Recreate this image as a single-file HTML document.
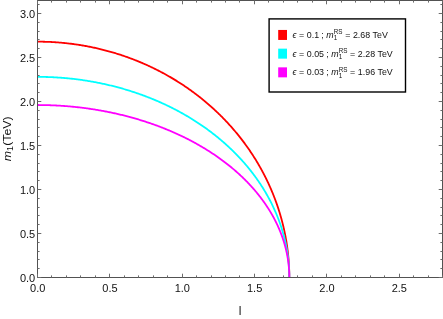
<!DOCTYPE html>
<html><head><meta charset="utf-8"><title>plot</title>
<style>
html,body{margin:0;padding:0;background:#fff;}
body{width:443px;height:319px;overflow:hidden;}
svg{display:block;font-family:"Liberation Sans",sans-serif;will-change:transform;}
</style></head><body>
<svg width="443" height="319" viewBox="0 0 443 319">
<rect width="443" height="319" fill="#fff"/>
<g clip-path="url(#c)">
<polyline points="37.50,41.66 38.49,41.66 39.48,41.67 40.47,41.68 41.46,41.69 42.44,41.71 43.43,41.73 44.42,41.75 45.41,41.78 46.40,41.81 47.39,41.84 48.37,41.88 49.36,41.92 50.35,41.97 51.34,42.02 52.32,42.07 53.31,42.13 54.30,42.19 55.29,42.25 56.27,42.32 57.26,42.39 58.24,42.46 59.23,42.54 60.21,42.62 61.20,42.71 62.18,42.80 63.17,42.89 64.15,42.98 65.13,43.08 66.12,43.19 67.10,43.29 68.08,43.41 69.06,43.52 70.04,43.64 71.02,43.76 72.00,43.88 72.98,44.01 73.96,44.15 74.94,44.28 75.92,44.42 76.89,44.56 77.87,44.71 78.85,44.86 79.82,45.01 80.79,45.17 81.77,45.33 82.74,45.50 83.71,45.67 84.69,45.84 85.66,46.01 86.63,46.19 87.60,46.37 88.57,46.56 89.53,46.75 90.50,46.94 91.47,47.14 92.43,47.34 93.40,47.54 94.36,47.75 95.32,47.96 96.29,48.18 97.25,48.39 98.21,48.62 99.17,48.84 100.12,49.07 101.08,49.30 102.04,49.54 102.99,49.78 103.95,50.02 104.90,50.26 105.85,50.51 106.80,50.77 107.76,51.02 108.70,51.28 109.65,51.55 110.60,51.82 111.54,52.09 112.49,52.36 113.43,52.64 114.38,52.92 115.32,53.20 116.26,53.49 117.19,53.78 118.13,54.08 119.07,54.38 120.00,54.68 120.94,54.98 121.87,55.29 122.80,55.60 123.73,55.92 124.66,56.24 125.59,56.56 126.51,56.88 127.44,57.21 128.36,57.55 129.28,57.88 130.20,58.22 131.12,58.56 132.04,58.91 132.95,59.26 133.87,59.61 134.78,59.97 135.69,60.33 136.60,60.69 137.51,61.06 138.42,61.43 139.32,61.80 140.22,62.18 141.13,62.55 142.03,62.94 142.93,63.32 143.82,63.71 144.72,64.11 145.61,64.50 146.51,64.90 147.40,65.30 148.28,65.71 149.17,66.12 150.06,66.53 150.94,66.95 151.82,67.37 152.70,67.79 153.58,68.21 154.46,68.64 155.33,69.07 156.21,69.51 157.08,69.95 157.95,70.39 158.81,70.83 159.68,71.28 160.54,71.73 161.41,72.18 162.27,72.64 163.12,73.10 163.98,73.57 164.83,74.03 165.69,74.50 166.54,74.98 167.38,75.45 168.23,75.93 169.07,76.41 169.92,76.90 170.76,77.39 171.59,77.88 172.43,78.37 173.26,78.87 174.10,79.37 174.93,79.88 175.75,80.38 176.58,80.89 177.40,81.41 178.22,81.92 179.04,82.44 179.86,82.96 180.67,83.49 181.49,84.02 182.30,84.55 183.10,85.08 183.91,85.62 184.71,86.16 185.52,86.70 186.31,87.25 187.11,87.80 187.90,88.35 188.70,88.90 189.49,89.46 190.27,90.02 191.06,90.58 191.84,91.15 192.62,91.72 193.40,92.29 194.17,92.87 194.95,93.44 195.72,94.02 196.49,94.61 197.25,95.19 198.01,95.78 198.78,96.37 199.53,96.97 200.29,97.57 201.04,98.17 201.79,98.77 202.54,99.37 203.29,99.98 204.03,100.59 204.77,101.21 205.51,101.82 206.24,102.44 206.98,103.07 207.71,103.69 208.43,104.32 209.16,104.95 209.88,105.58 210.60,106.22 211.32,106.85 212.03,107.49 212.74,108.14 213.45,108.78 214.16,109.43 214.86,110.08 215.56,110.74 216.26,111.39 216.96,112.05 217.65,112.71 218.34,113.38 219.02,114.04 219.71,114.71 220.39,115.38 221.07,116.06 221.74,116.73 222.42,117.41 223.09,118.09 223.75,118.78 224.42,119.46 225.08,120.15 225.74,120.84 226.39,121.54 227.04,122.23 227.69,122.93 228.34,123.63 228.98,124.33 229.62,125.04 230.26,125.75 230.90,126.46 231.53,127.17 232.16,127.88 232.78,128.60 233.41,129.32 234.03,130.04 234.64,130.77 235.26,131.49 235.87,132.22 236.48,132.95 237.08,133.68 237.68,134.42 238.28,135.16 238.88,135.90 239.47,136.64 240.06,137.38 240.64,138.13 241.23,138.88 241.80,139.63 242.38,140.38 242.95,141.13 243.53,141.89 244.09,142.65 244.66,143.41 245.22,144.17 245.77,144.94 246.33,145.71 246.88,146.47 247.43,147.25 247.97,148.02 248.51,148.79 249.05,149.57 249.59,150.35 250.12,151.13 250.65,151.91 251.17,152.70 251.69,153.49 252.21,154.27 252.73,155.06 253.24,155.86 253.75,156.65 254.25,157.45 254.75,158.25 255.25,159.05 255.75,159.85 256.24,160.65 256.73,161.46 257.21,162.26 257.69,163.07 258.17,163.88 258.64,164.70 259.12,165.51 259.58,166.33 260.05,167.14 260.51,167.96 260.97,168.78 261.42,169.61 261.87,170.43 262.32,171.26 262.76,172.08 263.20,172.91 263.64,173.74 264.07,174.58 264.50,175.41 264.93,176.25 265.35,177.08 265.77,177.92 266.19,178.76 266.60,179.61 267.01,180.45 267.41,181.29 267.81,182.14 268.21,182.99 268.61,183.84 269.00,184.69 269.39,185.54 269.77,186.39 270.15,187.25 270.53,188.10 270.90,188.96 271.27,189.82 271.63,190.68 272.00,191.54 272.36,192.41 272.71,193.27 273.06,194.14 273.41,195.00 273.75,195.87 274.09,196.74 274.43,197.61 274.76,198.48 275.09,199.36 275.42,200.23 275.74,201.11 276.06,201.98 276.37,202.86 276.69,203.74 276.99,204.62 277.30,205.50 277.60,206.39 277.89,207.27 278.19,208.15 278.48,209.04 278.76,209.93 279.04,210.81 279.32,211.70 279.59,212.59 279.86,213.48 280.13,214.38 280.39,215.27 280.65,216.16 280.91,217.06 281.16,217.95 281.41,218.85 281.65,219.75 281.89,220.64 282.13,221.54 282.36,222.44 282.59,223.35 282.81,224.25 283.04,225.15 283.25,226.05 283.47,226.96 283.68,227.86 283.88,228.77 284.09,229.67 284.28,230.58 284.48,231.49 284.67,232.40 284.86,233.31 285.04,234.22 285.22,235.13 285.40,236.04 285.57,236.95 285.74,237.86 285.90,238.78 286.06,239.69 286.22,240.61 286.37,241.52 286.52,242.44 286.66,243.35 286.81,244.27 286.94,245.19 287.08,246.10 287.21,247.02 287.33,247.94 287.45,248.86 287.57,249.78 287.69,250.70 287.80,251.62 287.90,252.54 288.01,253.46 288.11,254.38 288.20,255.31 288.29,256.23 288.38,257.15 288.46,258.07 288.54,259.00 288.62,259.92 288.69,260.84 288.76,261.77 288.82,262.69 288.88,263.62 288.94,264.54 288.99,265.47 289.04,266.39 289.08,267.32 289.12,268.24 289.16,269.17 289.19,270.09 289.22,271.02 289.25,271.94 289.27,272.87 289.29,273.80 289.30,274.72 289.31,275.65 289.32,276.57 289.32,277.50" fill="none" stroke="#ff0000" stroke-width="1.8" stroke-linejoin="round"/>
<polyline points="37.50,76.86 38.49,76.86 39.48,76.87 40.47,76.87 41.46,76.88 42.44,76.90 43.43,76.92 44.42,76.94 45.41,76.96 46.40,76.99 47.39,77.01 48.37,77.05 49.36,77.08 50.35,77.12 51.34,77.16 52.32,77.21 53.31,77.26 54.30,77.31 55.29,77.36 56.27,77.42 57.26,77.48 58.24,77.54 59.23,77.61 60.21,77.68 61.20,77.75 62.18,77.83 63.17,77.90 64.15,77.99 65.13,78.07 66.12,78.16 67.10,78.25 68.08,78.34 69.06,78.44 70.04,78.54 71.02,78.65 72.00,78.75 72.98,78.86 73.96,78.97 74.94,79.09 75.92,79.21 76.89,79.33 77.87,79.45 78.85,79.58 79.82,79.71 80.79,79.85 81.77,79.98 82.74,80.12 83.71,80.27 84.69,80.41 85.66,80.56 86.63,80.72 87.60,80.87 88.57,81.03 89.53,81.19 90.50,81.35 91.47,81.52 92.43,81.69 93.40,81.87 94.36,82.04 95.32,82.22 96.29,82.40 97.25,82.59 98.21,82.78 99.17,82.97 100.12,83.16 101.08,83.36 102.04,83.56 102.99,83.76 103.95,83.97 104.90,84.18 105.85,84.39 106.80,84.61 107.76,84.83 108.70,85.05 109.65,85.27 110.60,85.50 111.54,85.73 112.49,85.96 113.43,86.20 114.38,86.44 115.32,86.68 116.26,86.92 117.19,87.17 118.13,87.42 119.07,87.68 120.00,87.93 120.94,88.19 121.87,88.46 122.80,88.72 123.73,88.99 124.66,89.26 125.59,89.54 126.51,89.81 127.44,90.09 128.36,90.38 129.28,90.66 130.20,90.95 131.12,91.24 132.04,91.54 132.95,91.83 133.87,92.13 134.78,92.44 135.69,92.74 136.60,93.05 137.51,93.36 138.42,93.68 139.32,93.99 140.22,94.31 141.13,94.64 142.03,94.96 142.93,95.29 143.82,95.62 144.72,95.96 145.61,96.29 146.51,96.63 147.40,96.97 148.28,97.32 149.17,97.67 150.06,98.02 150.94,98.37 151.82,98.73 152.70,99.09 153.58,99.45 154.46,99.81 155.33,100.18 156.21,100.55 157.08,100.92 157.95,101.30 158.81,101.68 159.68,102.06 160.54,102.44 161.41,102.83 162.27,103.22 163.12,103.61 163.98,104.00 164.83,104.40 165.69,104.80 166.54,105.20 167.38,105.61 168.23,106.02 169.07,106.43 169.92,106.84 170.76,107.25 171.59,107.67 172.43,108.09 173.26,108.52 174.10,108.94 174.93,109.37 175.75,109.80 176.58,110.24 177.40,110.67 178.22,111.11 179.04,111.55 179.86,112.00 180.67,112.45 181.49,112.89 182.30,113.35 183.10,113.80 183.91,114.26 184.71,114.72 185.52,115.18 186.31,115.64 187.11,116.11 187.90,116.58 188.70,117.05 189.49,117.53 190.27,118.00 191.06,118.48 191.84,118.96 192.62,119.45 193.40,119.93 194.17,120.42 194.95,120.91 195.72,121.41 196.49,121.90 197.25,122.40 198.01,122.90 198.78,123.41 199.53,123.91 200.29,124.42 201.04,124.93 201.79,125.45 202.54,125.96 203.29,126.48 204.03,127.00 204.77,127.52 205.51,128.04 206.24,128.57 206.98,129.10 207.71,129.63 208.43,130.17 209.16,130.70 209.88,131.24 210.60,131.78 211.32,132.32 212.03,132.87 212.74,133.42 213.45,133.96 214.16,134.52 214.86,135.07 215.56,135.63 216.26,136.18 216.96,136.74 217.65,137.31 218.34,137.87 219.02,138.44 219.71,139.01 220.39,139.58 221.07,140.15 221.74,140.73 222.42,141.31 223.09,141.89 223.75,142.47 224.42,143.05 225.08,143.64 225.74,144.22 226.39,144.81 227.04,145.41 227.69,146.00 228.34,146.60 228.98,147.19 229.62,147.79 230.26,148.40 230.90,149.00 231.53,149.61 232.16,150.22 232.78,150.83 233.41,151.44 234.03,152.05 234.64,152.67 235.26,153.28 235.87,153.90 236.48,154.53 237.08,155.15 237.68,155.78 238.28,156.40 238.88,157.03 239.47,157.66 240.06,158.30 240.64,158.93 241.23,159.57 241.80,160.21 242.38,160.85 242.95,161.49 243.53,162.13 244.09,162.78 244.66,163.42 245.22,164.07 245.77,164.72 246.33,165.38 246.88,166.03 247.43,166.69 247.97,167.34 248.51,168.00 249.05,168.66 249.59,169.33 250.12,169.99 250.65,170.66 251.17,171.33 251.69,171.99 252.21,172.67 252.73,173.34 253.24,174.01 253.75,174.69 254.25,175.37 254.75,176.04 255.25,176.73 255.75,177.41 256.24,178.09 256.73,178.78 257.21,179.46 257.69,180.15 258.17,180.84 258.64,181.53 259.12,182.22 259.58,182.92 260.05,183.61 260.51,184.31 260.97,185.01 261.42,185.71 261.87,186.41 262.32,187.11 262.76,187.82 263.20,188.52 263.64,189.23 264.07,189.94 264.50,190.65 264.93,191.36 265.35,192.07 265.77,192.79 266.19,193.50 266.60,194.22 267.01,194.93 267.41,195.65 267.81,196.37 268.21,197.09 268.61,197.82 269.00,198.54 269.39,199.26 269.77,199.99 270.15,200.72 270.53,201.45 270.90,202.18 271.27,202.91 271.63,203.64 272.00,204.37 272.36,205.11 272.71,205.84 273.06,206.58 273.41,207.32 273.75,208.06 274.09,208.79 274.43,209.54 274.76,210.28 275.09,211.02 275.42,211.76 275.74,212.51 276.06,213.26 276.37,214.00 276.69,214.75 276.99,215.50 277.30,216.25 277.60,217.00 277.89,217.75 278.19,218.50 278.48,219.26 278.76,220.01 279.04,220.77 279.32,221.52 279.59,222.28 279.86,223.04 280.13,223.80 280.39,224.56 280.65,225.32 280.91,226.08 281.16,226.84 281.41,227.60 281.65,228.37 281.89,229.13 282.13,229.90 282.36,230.66 282.59,231.43 282.81,232.20 283.04,232.96 283.25,233.73 283.47,234.50 283.68,235.27 283.88,236.04 284.09,236.81 284.28,237.58 284.48,238.36 284.67,239.13 284.86,239.90 285.04,240.68 285.22,241.45 285.40,242.23 285.57,243.00 285.74,243.78 285.90,244.56 286.06,245.34 286.22,246.11 286.37,246.89 286.52,247.67 286.66,248.45 286.81,249.23 286.94,250.01 287.08,250.79 287.21,251.57 287.33,252.35 287.45,253.14 287.57,253.92 287.69,254.70 287.80,255.48 287.90,256.27 288.01,257.05 288.11,257.83 288.20,258.62 288.29,259.40 288.38,260.19 288.46,260.97 288.54,261.76 288.62,262.54 288.69,263.33 288.76,264.12 288.82,264.90 288.88,265.69 288.94,266.47 288.99,267.26 289.04,268.05 289.08,268.84 289.12,269.62 289.16,270.41 289.19,271.20 289.22,271.99 289.25,272.77 289.27,273.56 289.29,274.35 289.30,275.14 289.31,275.92 289.32,276.71 289.32,277.50" fill="none" stroke="#00ffff" stroke-width="1.8" stroke-linejoin="round"/>
<polyline points="37.50,105.02 38.49,105.02 39.48,105.03 40.47,105.03 41.46,105.04 42.44,105.05 43.43,105.07 44.42,105.09 45.41,105.11 46.40,105.13 47.39,105.15 48.37,105.18 49.36,105.21 50.35,105.24 51.34,105.28 52.32,105.32 53.31,105.36 54.30,105.40 55.29,105.45 56.27,105.50 57.26,105.55 58.24,105.61 59.23,105.66 60.21,105.72 61.20,105.79 62.18,105.85 63.17,105.92 64.15,105.99 65.13,106.06 66.12,106.14 67.10,106.22 68.08,106.30 69.06,106.38 70.04,106.47 71.02,106.56 72.00,106.65 72.98,106.74 73.96,106.84 74.94,106.94 75.92,107.04 76.89,107.14 77.87,107.25 78.85,107.36 79.82,107.47 80.79,107.59 81.77,107.71 82.74,107.83 83.71,107.95 84.69,108.08 85.66,108.20 86.63,108.33 87.60,108.47 88.57,108.60 89.53,108.74 90.50,108.88 91.47,109.03 92.43,109.17 93.40,109.32 94.36,109.47 95.32,109.63 96.29,109.79 97.25,109.95 98.21,110.11 99.17,110.27 100.12,110.44 101.08,110.61 102.04,110.78 102.99,110.96 103.95,111.13 104.90,111.31 105.85,111.50 106.80,111.68 107.76,111.87 108.70,112.06 109.65,112.25 110.60,112.45 111.54,112.64 112.49,112.85 113.43,113.05 114.38,113.25 115.32,113.46 116.26,113.67 117.19,113.89 118.13,114.10 119.07,114.32 120.00,114.54 120.94,114.76 121.87,114.99 122.80,115.22 123.73,115.45 124.66,115.68 125.59,115.92 126.51,116.15 127.44,116.40 128.36,116.64 129.28,116.88 130.20,117.13 131.12,117.38 132.04,117.64 132.95,117.89 133.87,118.15 134.78,118.41 135.69,118.67 136.60,118.94 137.51,119.21 138.42,119.48 139.32,119.75 140.22,120.02 141.13,120.30 142.03,120.58 142.93,120.86 143.82,121.15 144.72,121.44 145.61,121.73 146.51,122.02 147.40,122.31 148.28,122.61 149.17,122.91 150.06,123.21 150.94,123.51 151.82,123.82 152.70,124.13 153.58,124.44 154.46,124.75 155.33,125.07 156.21,125.39 157.08,125.71 157.95,126.03 158.81,126.35 159.68,126.68 160.54,127.01 161.41,127.34 162.27,127.68 163.12,128.02 163.98,128.35 164.83,128.70 165.69,129.04 166.54,129.39 167.38,129.73 168.23,130.08 169.07,130.44 169.92,130.79 170.76,131.15 171.59,131.51 172.43,131.87 173.26,132.23 174.10,132.60 174.93,132.97 175.75,133.34 176.58,133.71 177.40,134.09 178.22,134.47 179.04,134.85 179.86,135.23 180.67,135.61 181.49,136.00 182.30,136.39 183.10,136.78 183.91,137.17 184.71,137.56 185.52,137.96 186.31,138.36 187.11,138.76 187.90,139.16 188.70,139.57 189.49,139.98 190.27,140.39 191.06,140.80 191.84,141.21 192.62,141.63 193.40,142.05 194.17,142.47 194.95,142.89 195.72,143.32 196.49,143.74 197.25,144.17 198.01,144.60 198.78,145.03 199.53,145.47 200.29,145.91 201.04,146.35 201.79,146.79 202.54,147.23 203.29,147.67 204.03,148.12 204.77,148.57 205.51,149.02 206.24,149.47 206.98,149.93 207.71,150.39 208.43,150.84 209.16,151.30 209.88,151.77 210.60,152.23 211.32,152.70 212.03,153.17 212.74,153.64 213.45,154.11 214.16,154.58 214.86,155.06 215.56,155.54 216.26,156.02 216.96,156.50 217.65,156.98 218.34,157.47 219.02,157.96 219.71,158.45 220.39,158.94 221.07,159.43 221.74,159.92 222.42,160.42 223.09,160.92 223.75,161.42 224.42,161.92 225.08,162.42 225.74,162.93 226.39,163.44 227.04,163.95 227.69,164.46 228.34,164.97 228.98,165.48 229.62,166.00 230.26,166.52 230.90,167.04 231.53,167.56 232.16,168.08 232.78,168.60 233.41,169.13 234.03,169.66 234.64,170.19 235.26,170.72 235.87,171.25 236.48,171.79 237.08,172.32 237.68,172.86 238.28,173.40 238.88,173.94 239.47,174.48 240.06,175.03 240.64,175.57 241.23,176.12 241.80,176.67 242.38,177.22 242.95,177.77 243.53,178.32 244.09,178.88 244.66,179.43 245.22,179.99 245.77,180.55 246.33,181.11 246.88,181.68 247.43,182.24 247.97,182.80 248.51,183.37 249.05,183.94 249.59,184.51 250.12,185.08 250.65,185.65 251.17,186.23 251.69,186.80 252.21,187.38 252.73,187.96 253.24,188.54 253.75,189.12 254.25,189.70 254.75,190.28 255.25,190.87 255.75,191.46 256.24,192.04 256.73,192.63 257.21,193.22 257.69,193.81 258.17,194.41 258.64,195.00 259.12,195.60 259.58,196.19 260.05,196.79 260.51,197.39 260.97,197.99 261.42,198.59 261.87,199.20 262.32,199.80 262.76,200.41 263.20,201.01 263.64,201.62 264.07,202.23 264.50,202.84 264.93,203.45 265.35,204.06 265.77,204.68 266.19,205.29 266.60,205.91 267.01,206.52 267.41,207.14 267.81,207.76 268.21,208.38 268.61,209.00 269.00,209.62 269.39,210.25 269.77,210.87 270.15,211.49 270.53,212.12 270.90,212.75 271.27,213.38 271.63,214.01 272.00,214.64 272.36,215.27 272.71,215.90 273.06,216.53 273.41,217.17 273.75,217.80 274.09,218.44 274.43,219.07 274.76,219.71 275.09,220.35 275.42,220.99 275.74,221.63 276.06,222.27 276.37,222.91 276.69,223.56 276.99,224.20 277.30,224.85 277.60,225.49 277.89,226.14 278.19,226.78 278.48,227.43 278.76,228.08 279.04,228.73 279.32,229.38 279.59,230.03 279.86,230.68 280.13,231.33 280.39,231.99 280.65,232.64 280.91,233.30 281.16,233.95 281.41,234.61 281.65,235.26 281.89,235.92 282.13,236.58 282.36,237.24 282.59,237.89 282.81,238.55 283.04,239.21 283.25,239.87 283.47,240.54 283.68,241.20 283.88,241.86 284.09,242.52 284.28,243.19 284.48,243.85 284.67,244.52 284.86,245.18 285.04,245.85 285.22,246.51 285.40,247.18 285.57,247.85 285.74,248.51 285.90,249.18 286.06,249.85 286.22,250.52 286.37,251.19 286.52,251.86 286.66,252.53 286.81,253.20 286.94,253.87 287.08,254.54 287.21,255.21 287.33,255.88 287.45,256.55 287.57,257.23 287.69,257.90 287.80,258.57 287.90,259.25 288.01,259.92 288.11,260.59 288.20,261.27 288.29,261.94 288.38,262.62 288.46,263.29 288.54,263.97 288.62,264.64 288.69,265.32 288.76,265.99 288.82,266.67 288.88,267.35 288.94,268.02 288.99,268.70 289.04,269.38 289.08,270.05 289.12,270.73 289.16,271.41 289.19,272.08 289.22,272.76 289.25,273.44 289.27,274.11 289.29,274.79 289.30,275.47 289.31,276.15 289.32,276.82 289.32,277.50" fill="none" stroke="#ff00ff" stroke-width="1.8" stroke-linejoin="round"/>
</g>
<defs><clipPath id="c"><rect x="37.5" y="0" width="405.0" height="277.5"/></clipPath></defs>
<g stroke="#525252" stroke-width="1" fill="none">
<rect x="37.5" y="0.5" width="405.00" height="277.00"/>
<path d="M37.50,277.5v-3.8M37.50,0.5v3.8M51.50,277.5v-2.1M51.50,0.5v2.1M66.50,277.5v-2.1M66.50,0.5v2.1M80.50,277.5v-2.1M80.50,0.5v2.1M95.50,277.5v-2.1M95.50,0.5v2.1M109.50,277.5v-3.8M109.50,0.5v3.8M124.50,277.5v-2.1M124.50,0.5v2.1M138.50,277.5v-2.1M138.50,0.5v2.1M153.50,277.5v-2.1M153.50,0.5v2.1M167.50,277.5v-2.1M167.50,0.5v2.1M182.50,277.5v-3.8M182.50,0.5v3.8M196.50,277.5v-2.1M196.50,0.5v2.1M211.50,277.5v-2.1M211.50,0.5v2.1M225.50,277.5v-2.1M225.50,0.5v2.1M239.50,277.5v-2.1M239.50,0.5v2.1M254.50,277.5v-3.8M254.50,0.5v3.8M268.50,277.5v-2.1M268.50,0.5v2.1M283.50,277.5v-2.1M283.50,0.5v2.1M297.50,277.5v-2.1M297.50,0.5v2.1M312.50,277.5v-2.1M312.50,0.5v2.1M326.50,277.5v-3.8M326.50,0.5v3.8M341.50,277.5v-2.1M341.50,0.5v2.1M355.50,277.5v-2.1M355.50,0.5v2.1M370.50,277.5v-2.1M370.50,0.5v2.1M384.50,277.5v-2.1M384.50,0.5v2.1M399.50,277.5v-3.8M399.50,0.5v3.8M413.50,277.5v-2.1M413.50,0.5v2.1M428.50,277.5v-2.1M428.50,0.5v2.1M442.50,277.5v-2.1M442.50,0.5v2.1M37.5,277.50h3.8M442.5,277.50h-3.8M37.5,268.50h2.1M442.5,268.50h-2.1M37.5,259.50h2.1M442.5,259.50h-2.1M37.5,251.50h2.1M442.5,251.50h-2.1M37.5,242.50h2.1M442.5,242.50h-2.1M37.5,233.50h3.8M442.5,233.50h-3.8M37.5,224.50h2.1M442.5,224.50h-2.1M37.5,215.50h2.1M442.5,215.50h-2.1M37.5,207.50h2.1M442.5,207.50h-2.1M37.5,198.50h2.1M442.5,198.50h-2.1M37.5,189.50h3.8M442.5,189.50h-3.8M37.5,180.50h2.1M442.5,180.50h-2.1M37.5,171.50h2.1M442.5,171.50h-2.1M37.5,163.50h2.1M442.5,163.50h-2.1M37.5,154.50h2.1M442.5,154.50h-2.1M37.5,145.50h3.8M442.5,145.50h-3.8M37.5,136.50h2.1M442.5,136.50h-2.1M37.5,127.50h2.1M442.5,127.50h-2.1M37.5,119.50h2.1M442.5,119.50h-2.1M37.5,110.50h2.1M442.5,110.50h-2.1M37.5,101.50h3.8M442.5,101.50h-3.8M37.5,92.50h2.1M442.5,92.50h-2.1M37.5,83.50h2.1M442.5,83.50h-2.1M37.5,75.50h2.1M442.5,75.50h-2.1M37.5,66.50h2.1M442.5,66.50h-2.1M37.5,57.50h3.8M442.5,57.50h-3.8M37.5,48.50h2.1M442.5,48.50h-2.1M37.5,39.50h2.1M442.5,39.50h-2.1M37.5,31.50h2.1M442.5,31.50h-2.1M37.5,22.50h2.1M442.5,22.50h-2.1M37.5,13.50h3.8M442.5,13.50h-3.8M37.5,4.50h2.1M442.5,4.50h-2.1" stroke="#6c6c6c"/>
</g>
<g font-size="11" fill="#111">
<text x="37.70" y="292.3" text-anchor="middle">0.0</text>
<text x="110.02" y="292.3" text-anchor="middle">0.5</text>
<text x="182.34" y="292.3" text-anchor="middle">1.0</text>
<text x="254.66" y="292.3" text-anchor="middle">1.5</text>
<text x="326.98" y="292.3" text-anchor="middle">2.0</text>
<text x="399.30" y="292.3" text-anchor="middle">2.5</text>
<text x="35.2" y="281.50" text-anchor="end">0.0</text>
<text x="35.2" y="237.50" text-anchor="end">0.5</text>
<text x="35.2" y="193.50" text-anchor="end">1.0</text>
<text x="35.2" y="149.50" text-anchor="end">1.5</text>
<text x="35.2" y="105.50" text-anchor="end">2.0</text>
<text x="35.2" y="61.50" text-anchor="end">2.5</text>
<text x="35.2" y="17.50" text-anchor="end">3.0</text>
</g>
<text x="240" y="314.8" font-size="12" text-anchor="middle" fill="#111">l</text>
<text transform="translate(11.2,138.8) rotate(-90) scale(1.075,1)" font-size="11.5" text-anchor="middle" fill="#111"><tspan font-style="italic">m</tspan><tspan font-size="8.5" dy="2">1</tspan><tspan dy="-2">(TeV)</tspan></text>
<rect x="269.1" y="18.9" width="136.4" height="73.1" fill="#fff" stroke="#000" stroke-width="1.4"/>
<rect x="278.2" y="29.95" width="8.8" height="10" fill="#ff0000"/>
<text x="292.5" y="38.05" font-size="8.85" word-spacing="0.17" fill="#111"><tspan font-style="italic">ϵ</tspan> = 0.1<tspan dx="-0.5"> ;</tspan> <tspan font-style="italic">m</tspan><tspan font-size="6.3" dy="2.2">1</tspan><tspan font-size="6.3" dy="-6" dx="-3.5">RS</tspan><tspan dy="3.8"> = 2.68 TeV</tspan></text>
<rect x="278.2" y="48.65" width="8.8" height="10" fill="#00ffff"/>
<text x="292.5" y="56.75" font-size="8.85" word-spacing="0.17" fill="#111"><tspan font-style="italic">ϵ</tspan> = 0.05<tspan dx="-0.5"> ;</tspan> <tspan font-style="italic">m</tspan><tspan font-size="6.3" dy="2.2">1</tspan><tspan font-size="6.3" dy="-6" dx="-3.5">RS</tspan><tspan dy="3.8"> = 2.28 TeV</tspan></text>
<rect x="278.2" y="67.35" width="8.8" height="10" fill="#ff00ff"/>
<text x="292.5" y="75.45" font-size="8.85" word-spacing="0.17" fill="#111"><tspan font-style="italic">ϵ</tspan> = 0.03<tspan dx="-0.5"> ;</tspan> <tspan font-style="italic">m</tspan><tspan font-size="6.3" dy="2.2">1</tspan><tspan font-size="6.3" dy="-6" dx="-3.5">RS</tspan><tspan dy="3.8"> = 1.96 TeV</tspan></text>
</svg></body></html>
